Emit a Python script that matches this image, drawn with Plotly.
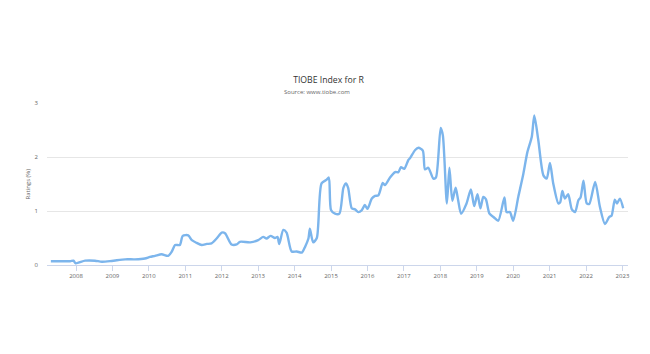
import plotly.graph_objects as go

years = [2007.31, 2007.56, 2007.84, 2007.93, 2007.99, 2008.25, 2008.52, 2008.71, 2008.98,
         2009.35, 2009.62, 2009.89, 2010.03, 2010.17, 2010.35, 2010.53, 2010.63, 2010.72,
         2010.85, 2010.93, 2011.08, 2011.18, 2011.31, 2011.45, 2011.59, 2011.72, 2011.86,
         2012.00, 2012.09, 2012.27, 2012.41, 2012.50, 2012.78, 2013.00, 2013.14, 2013.23,
         2013.34, 2013.46, 2013.53, 2013.58, 2013.69, 2013.78, 2013.92, 2014.06, 2014.20,
         2014.29, 2014.38, 2014.42, 2014.51, 2014.61, 2014.74, 2014.88, 2014.94, 2015.00,
         2015.11, 2015.23, 2015.34, 2015.41, 2015.47, 2015.57, 2015.66, 2015.75, 2015.84,
         2015.93, 2016.00, 2016.12, 2016.21, 2016.30, 2016.42, 2016.48, 2016.62, 2016.76,
         2016.85, 2016.92, 2017.01, 2017.12, 2017.17, 2017.31, 2017.40, 2017.52, 2017.58,
         2017.67, 2017.81, 2017.88, 2018.01, 2018.07, 2018.18, 2018.25, 2018.33, 2018.42,
         2018.49, 2018.57, 2018.72, 2018.84, 2018.93, 2019.02, 2019.10, 2019.18, 2019.25,
         2019.35, 2019.46, 2019.59, 2019.76, 2019.82, 2019.91, 2020.00, 2020.14, 2020.28,
         2020.39, 2020.51, 2020.58, 2020.69, 2020.83, 2020.92, 2021.01, 2021.10, 2021.24,
         2021.29, 2021.35, 2021.42, 2021.51, 2021.61, 2021.70, 2021.79, 2021.85, 2021.93,
         2022.02, 2022.09, 2022.25, 2022.38, 2022.52, 2022.64, 2022.70, 2022.79, 2022.85,
         2022.93, 2023.02]

ratings = [0.07, 0.07, 0.07, 0.08, 0.03, 0.08, 0.08, 0.06, 0.075,
           0.105, 0.105, 0.12, 0.15, 0.17, 0.2, 0.17, 0.25, 0.37,
           0.37, 0.54, 0.55, 0.46, 0.41, 0.37, 0.39, 0.40, 0.49,
           0.60, 0.59, 0.38, 0.38, 0.43, 0.42, 0.46, 0.52, 0.49,
           0.54, 0.50, 0.52, 0.39, 0.65, 0.60, 0.25, 0.25, 0.23,
           0.34, 0.49, 0.67, 0.42, 0.50, 1.51, 1.58, 1.62, 1.02,
           0.95, 0.95, 1.43, 1.51, 1.43, 1.05, 1.03, 0.98, 1.01,
           1.11, 1.04, 1.23, 1.28, 1.29, 1.52, 1.48, 1.62, 1.72,
           1.72, 1.81, 1.78, 1.94, 1.98, 2.13, 2.17, 2.12, 1.77,
           1.80, 1.60, 1.62, 2.54, 2.40, 1.14, 1.80, 1.19, 1.43,
           1.20, 0.95, 1.14, 1.40, 1.09, 1.31, 1.05, 1.26, 1.22,
           0.95, 0.89, 0.82, 1.25, 0.98, 0.98, 0.82, 1.26, 1.69,
           2.09, 2.37, 2.77, 2.31, 1.66, 1.60, 1.89, 1.51, 1.14,
           1.16, 1.37, 1.23, 1.31, 1.03, 0.98, 1.20, 1.25, 1.56,
           1.14, 1.13, 1.54, 1.08, 0.76, 0.89, 0.91, 1.21, 1.14,
           1.23, 1.05]

tick_years = list(range(2008, 2024))
tick_labels = [str(y) for y in tick_years]
y_ticks = [0, 1, 2, 3]

FONT = "Open Sans, DejaVu Sans, sans-serif"

fig = go.Figure()
fig.add_trace(go.Scatter(
    x=years, y=ratings, mode="lines",
    line=dict(color="#7cb5ec", width=2.4, shape="spline", smoothing=0.7),
    hoverinfo="skip", showlegend=False,
))

fig.update_layout(
    width=650, height=354,
    margin=dict(l=47, r=22, t=103, b=89),
    paper_bgcolor="white", plot_bgcolor="white",
    font=dict(family=FONT, color="#666666", size=6),
    title=dict(text="TIOBE Index for R", x=(328.5 / 650), xanchor="center",
               y=1 - 80 / 354, yanchor="middle", yref="container",
               font=dict(family=FONT, size=8.7, color="#333333")),
    xaxis=dict(range=[2007.204, 2023.152], tickvals=tick_years, ticktext=tick_labels,
               showgrid=False, zeroline=False, showline=True, linecolor="#ccd6eb",
               linewidth=1, ticks="outside", ticklen=5, tickcolor="#ccd6eb",
               tickfont=dict(size=6, color="#666666"), fixedrange=True),
    yaxis=dict(range=[0, 3], tickvals=y_ticks, showgrid=True, gridcolor="#e6e6e6",
               gridwidth=1, zeroline=False, showline=False, ticks="",
               ticklabelstandoff=8,
               tickfont=dict(size=6, color="#666666"), fixedrange=True),
    annotations=[
        dict(text="Source: www.tiobe.com", x=(317 - 47) / 581, xref="paper",
             y=(265 - 92.5) / 162, yref="paper", xanchor="center", yanchor="middle",
             showarrow=False, font=dict(family=FONT, size=6, color="#666666")),
        dict(text="Ratings (%)", x=(27.5 - 47) / 581, xref="paper", y=0.5, yref="paper",
             xanchor="center", yanchor="middle", showarrow=False, textangle=-90,
             font=dict(family=FONT, size=6, color="#666666")),
    ],
)

fig.write_html("out.html")
